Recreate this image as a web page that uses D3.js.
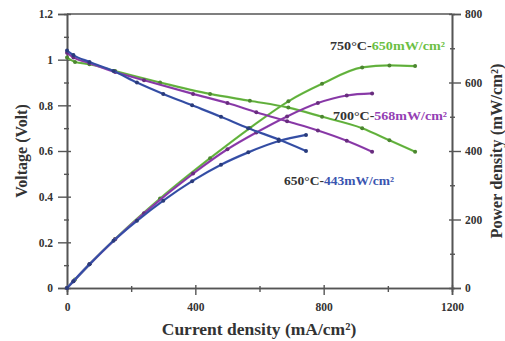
<!DOCTYPE html>
<html><head><meta charset="utf-8">
<script src="https://cdn.jsdelivr.net/npm/d3@7"></script>
<style>body{margin:0;background:#fff}svg{display:block}</style>
</head><body>
<svg id="c" width="505" height="341"></svg>
<script>
// Data
const xTicks = [0, 400, 800, 1200];
const vTicks = [0, 0.2, 0.4, 0.6, 0.8, 1, 1.2];
const pTicks = [0, 200, 400, 600, 800];

const I650 = [0, 20, 70, 145, 218, 300, 390, 480, 565, 660, 745];
const V650 = [1.04, 1.02, 0.99, 0.95, 0.90, 0.85, 0.80, 0.75, 0.70, 0.65, 0.60];
const P650 = [0, 20, 69, 138, 196, 255, 312, 360, 396, 429, 447];

const I700 = [0, 20, 70, 150, 240, 393, 500, 590, 686, 782, 872, 951];
const V700 = [1.03, 1.01, 0.985, 0.946, 0.91, 0.85, 0.81, 0.77, 0.73, 0.69, 0.645, 0.597];
const P700 = [0, 20, 69, 142, 218, 334, 405, 454, 501, 540, 562, 568];

const I750 = [0, 25, 70, 150, 290, 446, 570, 690, 795, 920, 1005, 1085];
const V750 = [1.01, 0.99, 0.98, 0.95, 0.90, 0.85, 0.82, 0.79, 0.75, 0.70, 0.647, 0.597];
const P750 = [0, 25, 69, 143, 261, 379, 467, 545, 596, 644, 650, 648];

const labelsA = ["650\u00B0C-", "700\u00B0C-", "750\u00B0C-"];
const labelsB = ["443mW/cm\u00B2", "568mW/cm\u00B2", "650mW/cm\u00B2"];
const colors = ["#3a55b0", "#9440b4", "#6cbf45"];

const svg = d3.select("#c");
const L = 67, R = 452, T = 14, B = 288;
const x = d3.scaleLinear().domain([0, 1200]).range([L, R]);
const yV = d3.scaleLinear().domain([0, 1.2]).range([B, T]);
const yP = d3.scaleLinear().domain([0, 800]).range([B, T]);
const font = "'Liberation Serif', 'DejaVu Serif', serif";
const axCol = "#555";

// frame
svg.append("line").attr("x1", L).attr("x2", R).attr("y1", T).attr("y2", T)
  .attr("stroke", axCol).attr("stroke-width", 1.6);

function styleAxis(g) {
  g.selectAll("path").attr("stroke", axCol).attr("stroke-width", 1.6);
  g.selectAll("line").attr("stroke", axCol).attr("stroke-width", 1.4);
  g.selectAll("text").attr("font-family", font).attr("font-weight", "bold")
    .attr("font-size", 11.5).attr("fill", "#333");
}

// minor ticks
const gxm = svg.append("g").attr("transform", `translate(0,${B})`)
  .call(d3.axisBottom(x).tickValues([200, 600, 1000]).tickSize(4).tickFormat(""));
styleAxis(gxm); gxm.selectAll(".tick line").attr("y1", -2);
const gvm = svg.append("g").attr("transform", `translate(${L},0)`)
  .call(d3.axisLeft(yV).tickValues([0.1, 0.3, 0.5, 0.7, 0.9, 1.1]).tickSize(3).tickFormat(""));
styleAxis(gvm); gvm.selectAll(".tick line").attr("x1", 2);
const gpm = svg.append("g").attr("transform", `translate(${R},0)`)
  .call(d3.axisRight(yP).tickValues([100, 300, 500, 700]).tickSize(3).tickFormat(""));
styleAxis(gpm); gpm.selectAll(".tick line").attr("x1", -2);

const gx = svg.append("g").attr("transform", `translate(0,${B})`)
  .call(d3.axisBottom(x).tickValues(xTicks).tickSize(7).tickPadding(8).tickFormat(d3.format("d")));
styleAxis(gx); gx.selectAll(".tick line").attr("y1", -3);
const gv = svg.append("g").attr("transform", `translate(${L},0)`)
  .call(d3.axisLeft(yV).tickValues(vTicks).tickSize(9).tickPadding(5).tickFormat(d => d3.format("")(+d.toFixed(1))));
styleAxis(gv); gv.selectAll(".tick line").attr("x1", 4);
const gp = svg.append("g").attr("transform", `translate(${R},0)`)
  .call(d3.axisRight(yP).tickValues(pTicks).tickSize(9).tickPadding(4).tickFormat(d3.format("d")));
styleAxis(gp); gp.selectAll(".tick line").attr("x1", -3);

// curves
const data = [
  {I: I650, V: V650, P: P650},
  {I: I700, V: V700, P: P700},
  {I: I750, V: V750, P: P750}
];
const lineV = d3.line().x(d => x(d[0])).y(d => yV(d[1])).curve(d3.curveMonotoneX);
const lineP = d3.line().x(d => x(d[0])).y(d => yP(d[1])).curve(d3.curveMonotoneX);

[2, 1, 0].forEach(k => {
  const s = data[k];
  const vPts = s.I.map((v, i) => [v, s.V[i]]);
  const pPts = s.I.map((v, i) => [v, s.P[i]]);
  [[vPts, lineV, yV], [pPts, lineP, yP]].forEach(([pts, ln, ys]) => {
    svg.append("path").attr("d", ln(pts)).attr("fill", "none")
      .attr("stroke", colors[k]).attr("stroke-width", 2.2);
    svg.append("path").attr("d", ln(pts)).attr("fill", "none")
      .attr("stroke", d3.color(colors[k]).darker(1.2)).attr("stroke-width", 0.6).attr("opacity", 0.6);
    svg.selectAll(null).data(pts).enter().append("circle")
      .attr("cx", d => x(d[0])).attr("cy", d => ys(d[1])).attr("r", 2)
      .attr("fill", d3.color(colors[k]).darker(1));
  });
});

// annotations
const annPos = [[284, 185, 110], [333, 120, 114], [330, 50, 115]];
annPos.forEach((p, k) => {
  const t = svg.append("text").attr("x", p[0]).attr("y", p[1])
    .attr("font-family", font).attr("font-weight", "bold").attr("font-size", 12)
    .attr("textLength", p[2]).attr("lengthAdjust", "spacingAndGlyphs");
  t.append("tspan").attr("fill", "#333").text(labelsA[k]);
  t.append("tspan").attr("fill", colors[k]).text(labelsB[k]);
});

// axis titles
svg.append("text").attr("transform", `translate(27,${(T + B) / 2}) rotate(-90)`)
  .attr("text-anchor", "middle").attr("font-family", font).attr("font-weight", "bold")
  .attr("font-size", 16).attr("fill", "#333").text("Voltage (Volt)");
svg.append("text").attr("x", 259).attr("y", 335)
  .attr("text-anchor", "middle").attr("font-family", font).attr("font-weight", "bold")
  .attr("font-size", 17.5).attr("fill", "#333").text("Current density (mA/cm\u00B2)");
svg.append("text").attr("transform", `translate(502,${(T + B) / 2}) rotate(-90)`)
  .attr("text-anchor", "middle").attr("font-family", font).attr("font-weight", "bold")
  .attr("font-size", 16.5).attr("fill", "#333").text("Power density (mW/cm\u00B2)");
</script>
</body></html>
